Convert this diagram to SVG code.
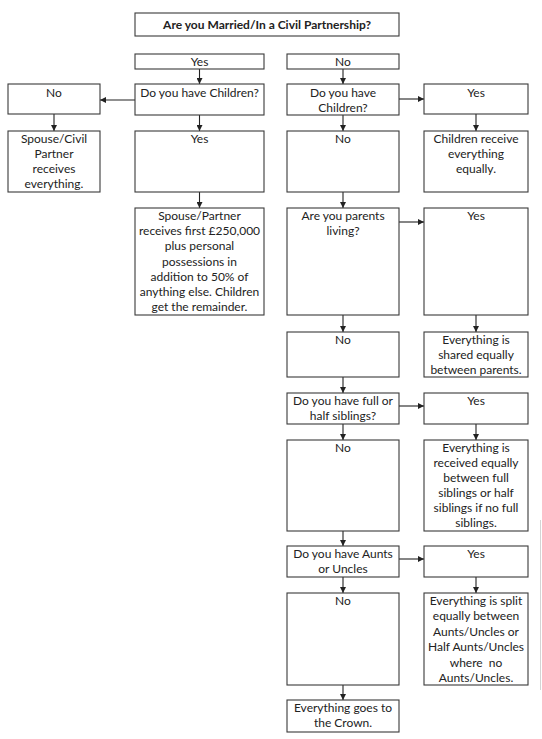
<svg xmlns="http://www.w3.org/2000/svg" width="542" height="739" viewBox="0 0 542 739">
<defs>
<style>
.box{fill:#fff;stroke:#3a3a3a;stroke-width:1.1}
.t{font-family:Lato,"Liberation Sans",sans-serif;font-size:12px;fill:#222;text-anchor:middle}
.b{font-weight:bold}
.c{stroke:#222;stroke-width:1.1;fill:none;marker-end:url(#ah)}
</style>
<marker id="ah" viewBox="0 0 10 10" refX="10" refY="5" markerWidth="6" markerHeight="6" markerUnits="userSpaceOnUse" orient="auto">
<path d="M0,0 L10,5 L0,10 z" fill="#222"/>
</marker>
</defs>
<rect width="542" height="739" fill="#fff"/>
<line x1="540.5" y1="520" x2="540.5" y2="690" stroke="#d4d4d4" stroke-width="1"/>

<g id="connectors">
<line class="c" x1="199.5" y1="69" x2="199.5" y2="84"/>
<line class="c" x1="343" y1="69" x2="343" y2="84"/>
<line class="c" x1="135" y1="100" x2="100" y2="100"/>
<line class="c" x1="399" y1="99" x2="424" y2="99"/>
<line class="c" x1="54" y1="114" x2="54" y2="131"/>
<line class="c" x1="199.5" y1="115" x2="199.5" y2="131"/>
<line class="c" x1="343" y1="115" x2="343" y2="131"/>
<line class="c" x1="476" y1="114" x2="476" y2="131"/>
<line class="c" x1="199.5" y1="192" x2="199.5" y2="208"/>
<line class="c" x1="343" y1="192" x2="343" y2="208"/>
<line class="c" x1="399" y1="222" x2="424" y2="222"/>
<line class="c" x1="343" y1="315" x2="343" y2="332"/>
<line class="c" x1="476" y1="315" x2="476" y2="332"/>
<line class="c" x1="343" y1="377" x2="343" y2="393"/>
<line class="c" x1="399" y1="406" x2="424" y2="406"/>
<line class="c" x1="343" y1="424" x2="343" y2="440"/>
<line class="c" x1="476" y1="424" x2="476" y2="440"/>
<line class="c" x1="343" y1="531" x2="343" y2="546"/>
<line class="c" x1="399" y1="559" x2="424" y2="559"/>
<line class="c" x1="343" y1="577" x2="343" y2="593"/>
<line class="c" x1="476" y1="577" x2="476" y2="593"/>
<line class="c" x1="343" y1="685" x2="343" y2="700"/>
</g>

<g id="title"><rect class="box" x="135" y="13" width="264" height="23"/><text class="t b" x="267" y="29">Are you Married/In a Civil Partnership?</text></g>
<g id="yes1"><rect class="box" x="135" y="54" width="129" height="15"/><text class="t" x="199.5" y="66">Yes</text></g>
<g id="no1"><rect class="box" x="287" y="54" width="112" height="15"/><text class="t" x="343" y="66">No</text></g>

<g id="no-left"><rect class="box" x="8" y="84" width="92" height="30"/><text class="t" x="54" y="97">No</text></g>
<g id="children-married"><rect class="box" x="135" y="84" width="129" height="31"/><text class="t" x="199.5" y="97">Do you have Children?</text></g>
<g id="children-single"><rect class="box" x="287" y="84" width="112" height="31"/><text class="t" x="343" y="97">Do you have</text><text class="t" x="343" y="112">Children?</text></g>
<g id="yes-children"><rect class="box" x="424" y="84" width="104" height="30"/><text class="t" x="476" y="97">Yes</text></g>

<g id="spouse-all"><rect class="box" x="8" y="131" width="92" height="61"/><text class="t" x="54" y="143">Spouse/Civil</text><text class="t" x="54" y="158">Partner</text><text class="t" x="54" y="173">receives</text><text class="t" x="54" y="188">everything.</text></g>
<g id="yes-married-children"><rect class="box" x="135" y="131" width="129" height="61"/><text class="t" x="199.5" y="143">Yes</text></g>
<g id="no-children"><rect class="box" x="287" y="131" width="112" height="61"/><text class="t" x="343" y="143">No</text></g>
<g id="children-all"><rect class="box" x="424" y="131" width="104" height="61"/><text class="t" x="476" y="143">Children receive</text><text class="t" x="476" y="158">everything</text><text class="t" x="476" y="173">equally.</text></g>

<g id="spouse-partner"><rect class="box" x="135" y="208" width="129" height="107"/>
<text class="t" x="199.5" y="220">Spouse/Partner</text>
<text class="t" x="199.5" y="235.2">receives first £250,000</text>
<text class="t" x="199.5" y="250.4">plus personal</text>
<text class="t" x="199.5" y="265.6">possessions in</text>
<text class="t" x="199.5" y="280.8">addition to 50% of</text>
<text class="t" x="199.5" y="296">anything else. Children</text>
<text class="t" x="199.5" y="311.2">get the remainder.</text></g>
<g id="parents"><rect class="box" x="287" y="208" width="112" height="107"/><text class="t" x="343" y="220">Are you parents</text><text class="t" x="343" y="235">living?</text></g>
<g id="yes-parents"><rect class="box" x="424" y="208" width="104" height="107"/><text class="t" x="476" y="220">Yes</text></g>

<g id="no-parents"><rect class="box" x="287" y="332" width="112" height="45"/><text class="t" x="343" y="344">No</text></g>
<g id="parents-share"><rect class="box" x="424" y="332" width="104" height="45"/><text class="t" x="476" y="344">Everything is</text><text class="t" x="476" y="359">shared equally</text><text class="t" x="476" y="374">between parents.</text></g>

<g id="siblings"><rect class="box" x="287" y="393" width="112" height="31"/><text class="t" x="343" y="405">Do you have full or</text><text class="t" x="343" y="420">half siblings?</text></g>
<g id="yes-siblings"><rect class="box" x="424" y="393" width="104" height="31"/><text class="t" x="476" y="405">Yes</text></g>

<g id="no-siblings"><rect class="box" x="287" y="440" width="112" height="91"/><text class="t" x="343" y="452">No</text></g>
<g id="siblings-share"><rect class="box" x="424" y="440" width="104" height="91"/>
<text class="t" x="476" y="452">Everything is</text>
<text class="t" x="476" y="467">received equally</text>
<text class="t" x="476" y="482">between full</text>
<text class="t" x="476" y="497">siblings or half</text>
<text class="t" x="476" y="512">siblings if no full</text>
<text class="t" x="476" y="527">siblings.</text></g>

<g id="aunts"><rect class="box" x="287" y="546" width="112" height="31"/><text class="t" x="343" y="558">Do you have Aunts</text><text class="t" x="343" y="573">or Uncles</text></g>
<g id="yes-aunts"><rect class="box" x="424" y="546" width="104" height="31"/><text class="t" x="476" y="558">Yes</text></g>

<g id="no-aunts"><rect class="box" x="287" y="593" width="112" height="92"/><text class="t" x="343" y="605">No</text></g>
<g id="aunts-share"><rect class="box" x="424" y="593" width="104" height="92"/>
<text class="t" x="476" y="605">Everything is split</text>
<text class="t" x="476" y="620.4">equally between</text>
<text class="t" x="476" y="635.8">Aunts/Uncles or</text>
<text class="t" x="476" y="651.2">Half Aunts/Uncles</text>
<text class="t" x="476" y="666.6" xml:space="preserve">where  no</text>
<text class="t" x="476" y="682">Aunts/Uncles.</text></g>

<g id="crown"><rect class="box" x="287" y="700" width="112" height="32"/><text class="t" x="343" y="712">Everything goes to</text><text class="t" x="343" y="727">the Crown.</text></g>
</svg>
